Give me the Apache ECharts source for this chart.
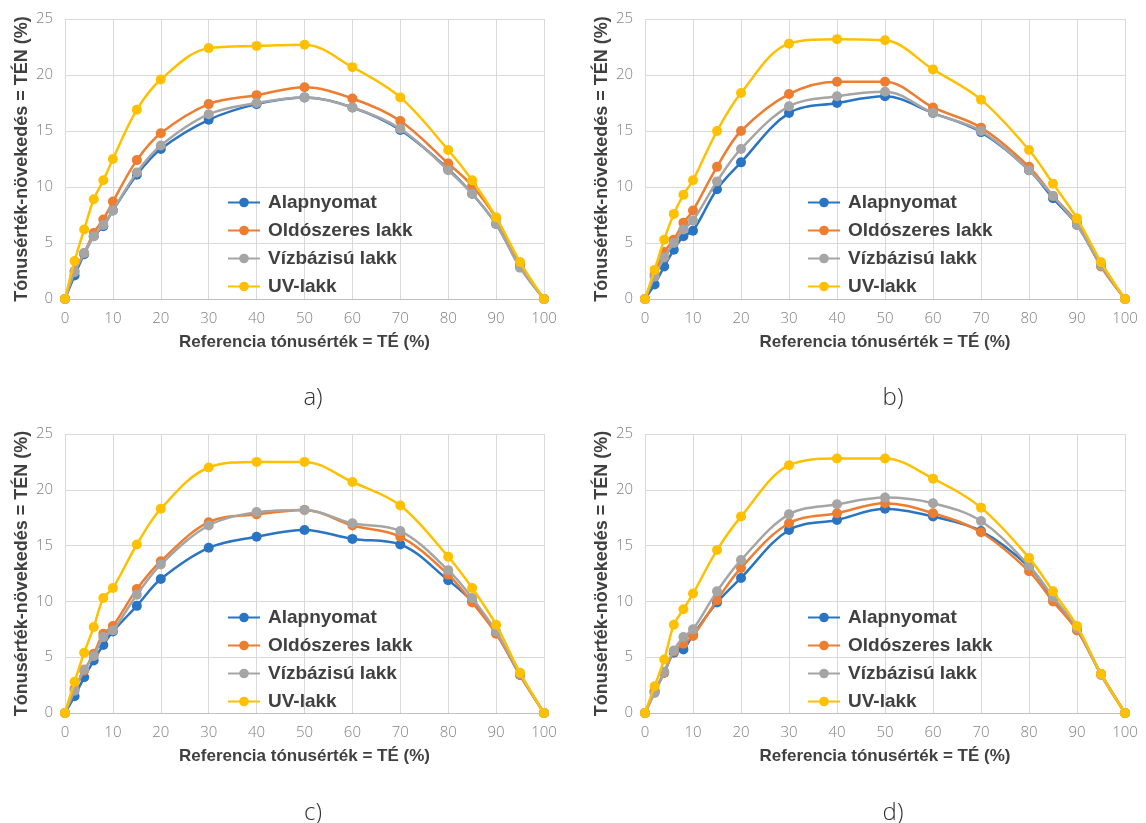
<!DOCTYPE html>
<html><head><meta charset="utf-8">
<script src="https://cdn.jsdelivr.net/npm/echarts@6/dist/echarts.min.js"></script>
<style>html,body{margin:0;padding:0;background:#fff}#c{width:1146px;height:823px}</style>
</head><body><div id="c"></div>
<script>
const xValues = [0,2,4,6,8,10,15,20,30,40,50,60,70,80,85,90,95,100];
const seriesNames = ['Alapnyomat','Oldószeres lakk','Vízbázisú lakk','UV-lakk'];
const xTicks = [0,10,20,30,40,50,60,70,80,90,100];
const yTicks = [0,5,10,15,20,25];
const panelLabels = ['a)','b)','c)','d)'];
const xAxisTitle = 'Referencia tónusérték = TÉ (%)';
const yAxisTitle = 'Tónusérték-növekedés = TÉN (%)';

const aAlap = [0,2.1,4.0,5.6,6.5,7.9,11.1,13.4,16.0,17.4,18.0,17.1,15.1,11.6,9.4,6.7,2.9,0];
const aOld  = [0,2.5,4.1,5.9,7.1,8.7,12.4,14.8,17.4,18.2,18.9,17.9,15.9,12.1,10.1,7.2,3.1,0];
const aViz  = [0,2.4,4.1,5.6,6.6,7.9,11.3,13.7,16.5,17.5,18.0,17.1,15.2,11.5,9.4,6.7,2.8,0];
const aUv   = [0,3.4,6.2,8.9,10.6,12.5,16.9,19.6,22.4,22.6,22.7,20.7,18.0,13.3,10.6,7.3,3.3,0];

const bAlap = [0,1.3,2.9,4.4,5.6,6.1,9.8,12.2,16.6,17.5,18.1,16.6,14.9,11.5,9.0,6.6,3.0,0];
const bOld  = [0,2.2,4.2,5.3,6.8,7.9,11.8,15.0,18.3,19.4,19.4,17.1,15.3,11.8,9.2,6.8,2.9,0];
const bViz  = [0,2.0,3.7,5.0,6.2,7.0,10.5,13.4,17.2,18.1,18.5,16.6,15.0,11.5,9.2,6.6,3.0,0];
const bUv   = [0,2.6,5.3,7.6,9.3,10.6,15.0,18.4,22.8,23.2,23.1,20.5,17.8,13.3,10.3,7.2,3.3,0];

const cAlap = [0,1.5,3.2,4.7,6.1,7.3,9.6,12.0,14.8,15.8,16.4,15.6,15.1,11.9,10.0,7.2,3.4,0];
const cOld  = [0,2.2,3.8,5.3,7.1,7.8,11.1,13.6,17.1,17.8,18.2,16.8,15.8,12.4,9.9,7.1,3.4,0];
const cViz  = [0,2.0,3.9,5.1,6.8,7.4,10.6,13.3,16.8,18.0,18.2,17.0,16.3,12.8,10.3,7.3,3.5,0];
const cUv   = [0,2.8,5.4,7.7,10.3,11.2,15.1,18.3,22.0,22.5,22.5,20.7,18.6,14.0,11.2,7.9,3.6,0];

const dAlap = [0,1.9,3.6,5.4,5.7,7.0,9.9,12.1,16.4,17.3,18.3,17.6,16.3,13.1,10.3,7.5,3.5,0];
const dOld  = [0,2.0,3.6,5.5,6.2,6.9,10.1,13.0,17.0,17.9,18.8,17.9,16.2,12.7,10.0,7.4,3.5,0];
const dViz  = [0,1.8,3.7,5.6,6.8,7.5,10.9,13.7,17.8,18.7,19.3,18.8,17.2,13.2,10.4,7.6,3.4,0];
const dUv   = [0,2.4,4.8,7.9,9.3,10.7,14.6,17.6,22.2,22.8,22.8,21.0,18.4,13.9,10.9,7.8,3.5,0];

const panels = [[aAlap,aOld,aViz,aUv],[bAlap,bOld,bViz,bUv],[cAlap,cOld,cViz,cUv],[dAlap,dOld,dViz,dUv]];
const colors = ['#2a74c4','#ed7d31','#a5a5a5','#ffc000'];

const narrow = '"Liberation Sans Narrow","Arial Narrow","Liberation Sans",Arial,sans-serif';
const light = '"Open Sans","Noto Sans",sans-serif';

const gridPos = [
  {left:65, top:19, width:479, height:280},
  {left:645, top:19, width:480, height:280},
  {left:65, top:434, width:479, height:279},
  {left:645, top:434, width:480, height:279}
];
const labelPos = [[308,393],[888,393],[308,808],[888,808]];

const grid=[], xAxis=[], yAxis=[], series=[], legend=[], title=[];
gridPos.forEach((g,p)=>{
  grid.push(Object.assign({containLabel:false}, g));
  xAxis.push({type:'value', gridIndex:p, min:xTicks[0], max:xTicks[xTicks.length-1], interval:10,
    name:xAxisTitle, nameLocation:'middle', nameGap:35,
    nameTextStyle:{fontFamily:narrow, fontWeight:'bold', fontSize:17, color:'#404040'},
    axisLine:{show:true, lineStyle:{color:'#bfbfbf', width:1}}, axisTick:{show:false},
    axisLabel:{fontFamily:light, fontSize:15, color:'#808080', margin:12, fontWeight:300},
    splitLine:{show:true, lineStyle:{color:'#d9d9d9', width:1}}});
  yAxis.push({type:'value', gridIndex:p, min:yTicks[0], max:yTicks[yTicks.length-1], interval:5,
    name:yAxisTitle, nameLocation:'middle', nameGap:34, nameRotate:90,
    nameTextStyle:{fontFamily:narrow, fontWeight:'bold', fontSize:18, color:'#404040'},
    axisLine:{show:false}, axisTick:{show:false},
    axisLabel:{fontFamily:light, fontSize:15, color:'#808080', margin:12, fontWeight:300},
    splitLine:{show:true, lineStyle:{color:'#d9d9d9', width:1}}});
  panels[p].forEach((arr,s)=>{
    series.push({type:'line', name:seriesNames[s], xAxisIndex:p, yAxisIndex:p,
      data:xValues.map((x,i)=>[x,arr[i]]), smooth:0.35,
      symbol:'circle', symbolSize:10, showSymbol:true,
      lineStyle:{color:colors[s], width:2.5}, itemStyle:{color:colors[s]}, z:2+s, animation:false});
  });
  legend.push({orient:'vertical', left:g.left+157, top:g.top+169, itemWidth:32, itemHeight:12, itemGap:9,
    data:seriesNames, selectedMode:false,
    textStyle:{fontFamily:narrow, fontWeight:'bold', fontSize:19, lineHeight:18, color:'#404040', padding:[0,0,0,3]}});
  title.push({text:panelLabels[p], left:labelPos[p][0], top:labelPos[p][1], textAlign:'center', textVerticalAlign:'middle',
    textStyle:{fontFamily:light, fontWeight:300, fontSize:24, color:'#333'}});
});

const chart = echarts.init(document.getElementById('c'), null, {renderer:'canvas'});
chart.setOption({animation:false, color:colors, grid, xAxis, yAxis, series, legend, title});
</script></body></html>
